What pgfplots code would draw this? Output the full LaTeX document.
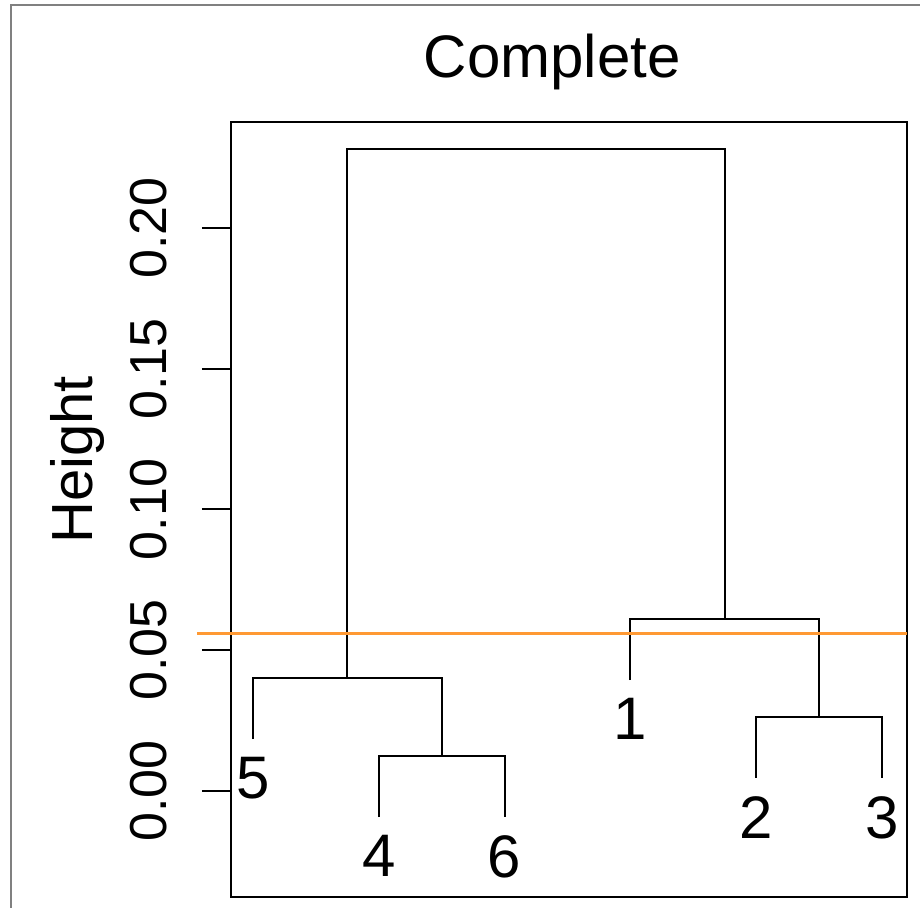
\documentclass[border=0pt]{standalone}
\usepackage{fontspec}
\setmainfont{Liberation Sans}
\usepackage{pgfplots}
\pgfplotsset{compat=1.18}
\definecolor{cutorange}{RGB}{255,153,51}
\begin{document}
\begin{tikzpicture}
\useasboundingbox (0,0) rectangle (460pt,454pt);
\draw[gray, line width=0.75pt] (5.5pt,-20pt) rectangle (500pt,451.5pt);
\begin{axis}[
  at={(115.5pt,5.5pt)}, anchor=south west,
  scale only axis, width=338pt, height=387.5pt,
  xmin=0.825, xmax=6.2, ymin=-0.0377, ymax=0.2377,
  clip=false,
  axis line style={line width=1pt},
  xtick=\empty,
  ytick={0,0.05,0.1,0.15,0.2},
  yticklabels={0.00,0.05,0.10,0.15,0.20},
  ytick pos=left, tick align=outside, major tick length=14.5pt,
  every tick/.style={black, line width=1pt},
  yticklabel style={xshift=-17.5pt, rotate=90, anchor=base, inner sep=0pt, font=\fontsize{26}{26}\selectfont},
]
% leaf 5 joined with cluster (4,6)
\addplot[black, line width=1pt] coordinates {(1,0.0184) (1,0.0401) (2.5,0.0401) (2.5,0.0124)};
% cluster (4,6)
\addplot[black, line width=1pt] coordinates {(2,-0.0093) (2,0.0124) (3,0.0124) (3,-0.0093)};
% cluster (2,3)
\addplot[black, line width=1pt] coordinates {(5,0.0046) (5,0.0263) (6,0.0263) (6,0.0046)};
% leaf 1 joined with cluster (2,3)
\addplot[black, line width=1pt] coordinates {(4,0.0394) (4,0.0611) (5.5,0.0611) (5.5,0.0263)};
% top merge
\addplot[black, line width=1pt] coordinates {(1.75,0.0401) (1.75,0.2281) (4.75,0.2281) (4.75,0.0611)};
% leaf labels
\addplot[draw=none, mark=none, nodes near coords, point meta=explicit symbolic,
  every node near coord/.append style={anchor=north, inner sep=0pt, yshift=-9pt, font=\fontsize{30}{30}\selectfont}]
  table[meta=lab] {
x y lab
1 0.0184 5
2 -0.0093 4
3 -0.0093 6
4 0.0394 1
5 0.0046 2
6 0.0046 3
};
% cut line
\addplot[cutorange, line width=1.5pt] coordinates {(0.555,0.0558) (6.2,0.0558)};
\node[anchor=base, font=\fontsize{30}{30}\selectfont] at (rel axis cs:0.475,1.058) {Complete};
\node[rotate=90, anchor=base, font=\fontsize{29}{29}\selectfont] at (rel axis cs:-0.2056,0.564) {Height};
\end{axis}
\end{tikzpicture}
\end{document}
